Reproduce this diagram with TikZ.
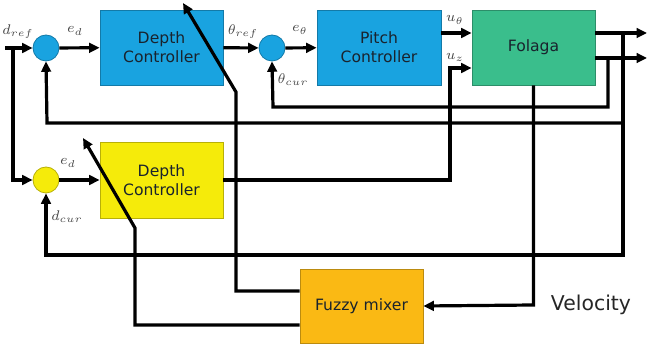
\documentclass[tikz,border=0pt]{standalone}
\usepackage{fontspec}
\setsansfont{DejaVu Sans}
\usetikzlibrary{arrows.meta}
\definecolor{cblue}{RGB}{25,163,224}
\definecolor{cyel}{RGB}{245,235,10}
\definecolor{cgreen}{RGB}{58,190,140}
\definecolor{corange}{RGB}{250,185,20}
\definecolor{ctext}{RGB}{25,35,45}
\definecolor{clab}{RGB}{70,70,70}
\tikzset{
  blk/.style={draw=#1!75!black, line width=0.4pt, fill=#1, minimum width=61.5pt, minimum height=37.5pt, inner sep=0pt, align=center, font=\sffamily\fontsize{7.8}{9.6}\selectfont, text=ctext},
  sumc/.style={circle, draw=#1!75!black, line width=0.4pt, fill=#1, minimum size=13pt, inner sep=0pt},
  wire/.style={line width=1.6pt, line join=miter},
  arr/.style={wire, -{Triangle[length=5.2pt,width=4.8pt]}},
  lab/.style={font=\fontsize{7}{8}\selectfont, text=clab, inner sep=0pt}
}
\begin{document}
\begin{tikzpicture}[x=0.5pt,y=-0.5pt]
\useasboundingbox (0,0) rectangle (649,347);
% nodes
\node[sumc=cblue] (s1) at (46,48) {};
\node[blk=cblue] (dc1) at (161.5,47.5) {Depth\\Controller};
\node[sumc=cblue] (s2) at (272,48) {};
\node[blk=cblue, minimum width=62pt] (pc) at (379,47.5) {Pitch\\Controller};
\node[blk=cgreen] (fol) at (533.5,47.5) {Folaga};
\node[sumc=cyel] (s3) at (46,180) {};
\node[blk=cyel, minimum height=38pt] (dc2) at (161.5,180) {Depth\\Controller};
\node[blk=corange, minimum height=37pt] (fm) at (361.5,306) {Fuzzy mixer};
\node[font=\sffamily\fontsize{10.2}{12}\selectfont, text=black!85] (vel) at (591,305) {Velocity};
% coordinates
\coordinate (in) at (5,48);
\coordinate (jn) at (13,48);
\coordinate (o1) at (647,33);
\coordinate (o2) at (647,58);
\coordinate (t1) at (183,3);
\coordinate (t2) at (83,138);
% forward path
\draw[arr] (in) -- (s1);
\draw[arr] (jn) -- (13,180) -- (s3);
\draw[arr] (s1) -- (dc1);
\draw[arr] (dc1) -- (s2);
\draw[arr] (s2) -- (pc);
\draw[arr] (pc.east |- 0,33) -- (fol.west |- 0,33);
\draw[arr] (s3) -- (dc2);
\draw[arr] (dc2.east) -- (450,180) -- (450,68) -- (fol.west |- 0,68);
\draw[arr] (fol.east |- o1) -- (o1);
\draw[arr] (fol.east |- o2) -- (o2);
% feedback
\draw[arr] (623,33) -- (623,255) -- (46,255) -- (s3.south);
\draw[arr] (623,123) -- (47,123) -- (s1.south);
\draw[arr] (608,58) -- (608,107) -- (273,107) -- (s2.south);
\draw[arr] (fol.south) -- (533.5,305) -- (fm.east);
% fuzzy outputs
\draw[arr] (fm.west |- 0,291) -- (236,291) -- (236,92) -- (t1);
\draw[arr] (fm.west |- 0,325) -- (135,325) -- (135,228) -- (t2);
% labels
\node[lab] at (18,32) {$d_{ref}$};
\node[lab] at (75,31) {$e_d$};
\node[lab] at (243,32) {$\theta_{ref}$};
\node[lab] at (300,30) {$e_\theta$};
\node[lab] at (293,80) {$\theta_{cur}$};
\node[lab] at (455,20) {$u_\theta$};
\node[lab] at (455,57) {$u_z$};
\node[lab] at (68,163) {$e_d$};
\node[lab] at (67,217) {$d_{cur}$};
\end{tikzpicture}
\end{document}
